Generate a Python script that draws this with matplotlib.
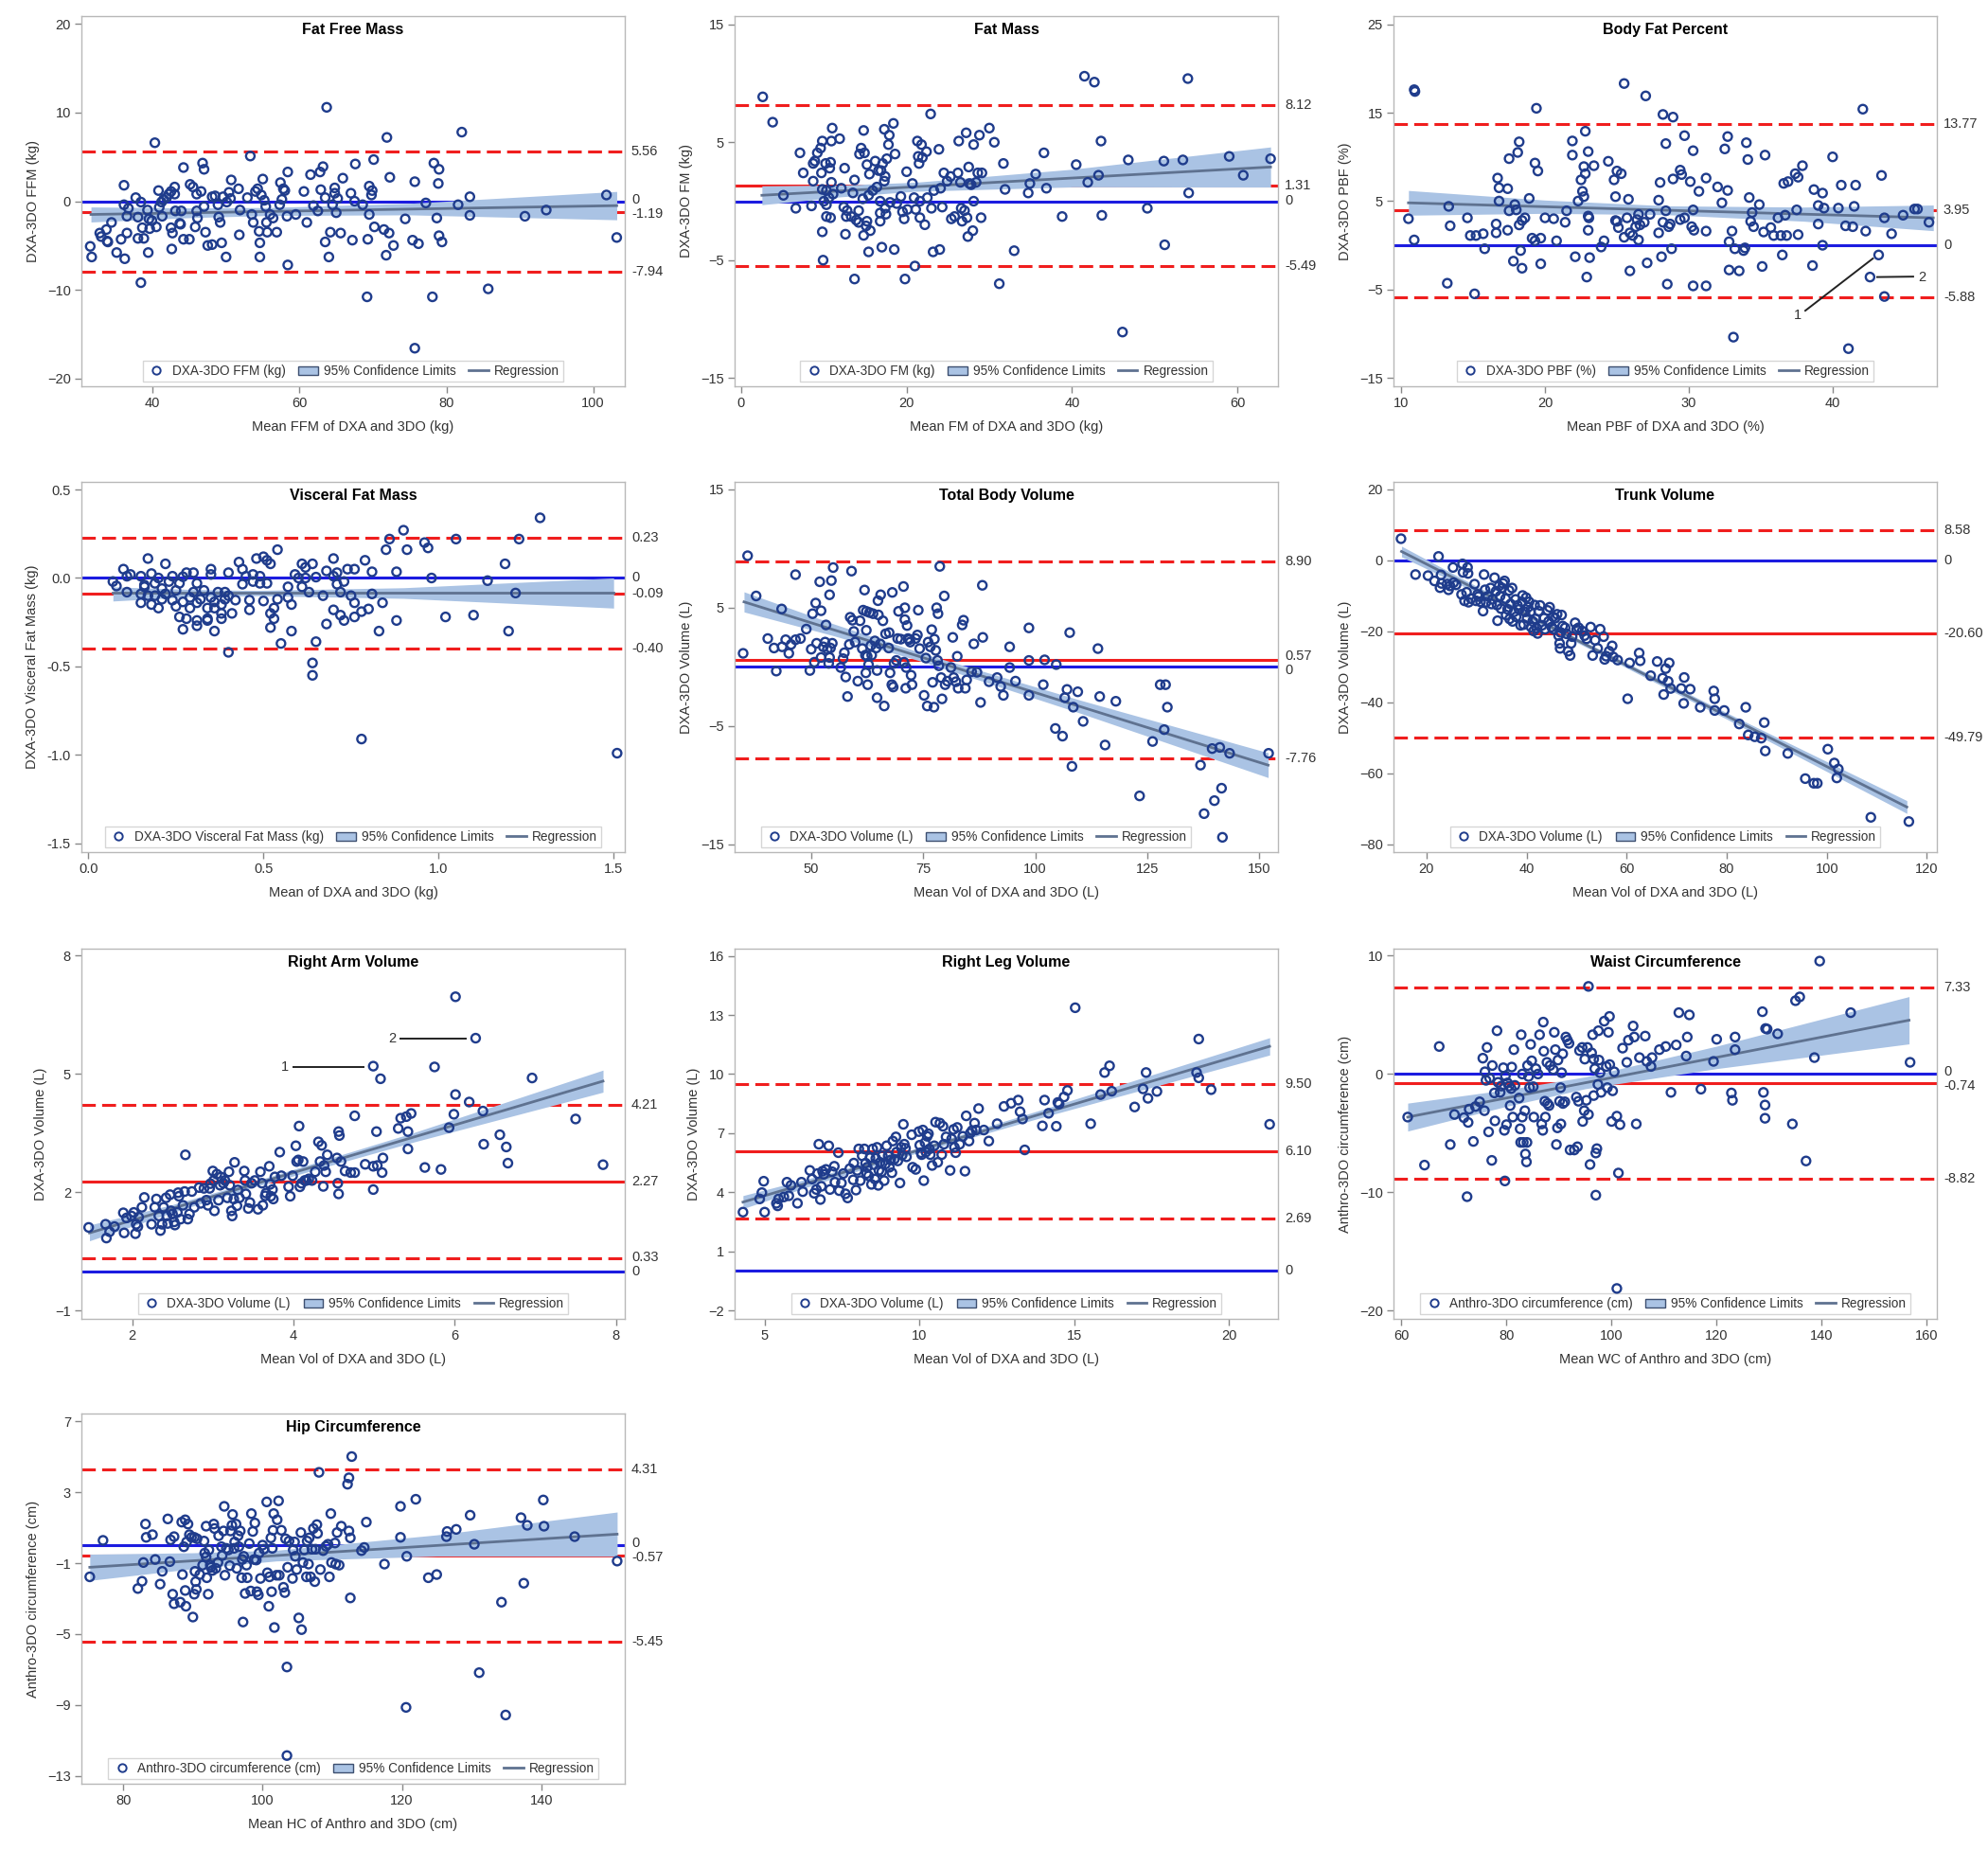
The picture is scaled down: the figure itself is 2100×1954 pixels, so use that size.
import numpy as np
import matplotlib
matplotlib.use("Agg")
import matplotlib.pyplot as plt
from matplotlib.lines import Line2D
from matplotlib.patches import Patch
import matplotlib.transforms as mtransforms

plt.rcParams['font.family'] = ['Liberation Sans', 'DejaVu Sans']

# ---------------- DATA ----------------
# Panel 1: Fat Free Mass
ffm_pts = [(31.5,-5.1),(31.7,-6.3),(32.8,-3.6),(33.0,-4.0),(33.7,-3.2),(33.8,-4.5),(33.9,-4.6),(34.4,-2.4),(35.1,-5.8),(35.7,-4.3),
 (36.1,1.8),(36.1,-0.4),(36.2,-6.5),(36.5,-3.6),(36.5,-1.7),(36.7,-0.8),(37.7,0.4),(38.0,-1.8),(38.0,-4.2),(38.4,-0.1),
 (38.6,-3.0),(38.4,-9.2),(38.8,-4.2),(39.3,-1.0),(39.4,-5.8),(39.5,-2.0),(39.6,-3.1),(39.9,-2.2),(40.3,6.6),(40.5,-2.9),
 (40.8,1.2),(40.9,-0.7),(41.2,-0.1),(41.3,-1.7),(41.5,0.2),(41.9,0.4),(42.2,0.8),(42.5,1.1),(42.5,-3.0),(42.6,-5.4),
 (42.7,-3.6),(43.0,1.6),(43.0,0.8),(43.1,-1.1),(43.7,-2.5),(43.8,-2.6),(43.9,-1.1),(44.2,3.8),(44.2,-4.3),(45.0,-4.3),
 (45.1,1.9),(45.5,1.6),(45.8,-2.9),(46.0,0.8),(46.0,-1.1),(46.1,-1.9),(46.6,1.1),(47.0,-0.6),(46.8,4.3),(47.0,3.6),
 (47.2,-3.5),(47.5,-5.0),(48.1,-4.9),(48.1,0.5),(48.5,0.6),(48.9,-0.4),(49.0,-1.8),(49.2,-2.4),(49.4,-4.7),(49.6,0.5),
 (50.0,-6.3),(50.1,-0.1),(50.4,1.0),(50.6,0.3),(50.7,2.4),(51.7,1.4),(51.8,-3.8),(51.9,-1.0),(52.9,0.4),(53.3,5.1),
 (53.5,-1.5),(53.7,-2.4),(54.0,1.1),(54.3,1.4),(54.5,-3.4),(54.6,-4.7),(54.6,-6.3),(54.8,0.7),(55.0,2.5),(55.2,0.1),
 (55.4,-0.6),(55.5,-2.4),(55.6,-3.5),(56.0,-1.5),(56.4,-1.9),(56.9,-3.5),(57.3,-0.4),(57.4,2.1),(57.6,0.2),(57.8,1.4),
 (58.0,1.2),(58.3,-1.7),(58.4,3.3),(58.4,-7.2),(59.5,-1.5),(60.6,1.1),(61.0,-2.4),(61.5,3.0),(61.9,-0.5),(62.5,-1.1),
 (62.8,3.3),(62.9,1.3),(63.2,3.9),(63.5,0.4),(63.5,-4.6),(63.7,10.6),(64.0,-6.3),(64.2,-3.5),(64.5,-0.4),(64.8,1.5),
 (64.8,0.9),(65.0,-1.3),(65.2,0.3),(65.6,-3.6),(65.9,2.6),(67.0,0.9),(67.2,-4.4),(67.5,0.0),(67.6,4.2),(68.6,-0.4),
 (69.2,-10.8),(69.3,-4.3),(69.5,1.7),(69.5,-1.5),(69.8,0.7),(69.9,1.2),(70.1,4.7),(70.2,-2.9),(71.9,7.2),(71.8,-6.1),
 (71.5,-3.2),(72.2,-3.6),(72.3,2.7),(72.8,-5.0),(74.4,-2.0),(75.4,-4.4),(75.7,-16.6),(75.7,2.2),(76.2,-4.8),(77.2,-0.2),
 (78.1,-10.8),(78.3,4.3),(78.7,-1.9),(78.9,2.0),(79.0,3.6),(79.0,-3.9),(79.4,-4.6),(81.6,-0.4),(82.1,7.8),(83.2,0.5),
 (83.2,-1.6),(85.7,-9.9),(90.7,-1.7),(93.6,-1.0),(101.8,0.7),(103.2,-4.1)]
ffm_lines = [5.56, -1.19, -7.94]
ffm_reg_x = [31.6, 103.2]
ffm_reg_y = [-1.5, -0.5]
ffm_ci_x = [31.6, 45, 56, 75, 103.2]
ffm_ci_lo = [-2.35, -1.86, -1.61, -1.54, -2.1]
ffm_ci_hi = [-0.65, -0.76, -0.71, -0.24, 1.1]

# Panel 2: Fat Mass
fm_pts = [(2.6,8.85),(3.8,6.7),(5.1,0.5),(6.6,-0.6),(7.1,4.1),(7.5,2.4),(8.5,-0.4),(8.7,1.7),(8.7,3.2),(8.9,3.4),
 (9.2,4.1),(9.6,4.5),(9.7,2.4),(9.8,5.1),(9.8,1.0),(9.8,-2.6),(9.9,-5.0),(10.0,0.0),(10.2,3.2),(10.3,0.9),
 (10.3,-0.3),(10.3,-1.3),(10.6,0.3),(10.7,2.8),(10.8,3.3),(10.8,-1.4),(10.9,1.6),(10.9,5.1),(11.0,6.2),(11.1,0.6),
 (11.9,5.3),(12.1,1.1),(12.4,-0.5),(12.5,2.8),(12.6,-2.8),(12.7,-1.3),(12.8,-0.8),(13.3,-1.3),(13.5,0.7),(13.7,1.8),
 (13.7,-6.6),(13.9,-1.6),(14.2,-0.8),(14.2,-1.8),(14.3,4.0),(14.5,4.5),(14.7,0.2),(14.8,6.0),(14.8,-2.9),(14.9,4.1),
 (15.1,-2.1),(15.2,-1.7),(15.2,3.1),(15.4,0.5),(15.4,-4.3),(15.5,2.3),(15.6,-2.5),(15.9,0.9),(16.2,3.4),(16.4,1.2),
 (16.6,2.6),(16.8,0.0),(16.8,-1.0),(16.8,-1.7),(16.9,2.6),(17.0,-3.9),(17.1,3.2),(17.3,6.1),(17.3,1.7),(17.4,2.1),
 (17.4,-0.6),(17.5,-1.1),(17.6,3.6),(17.8,4.8),(17.9,5.6),(18.0,-0.1),(18.4,6.6),(18.5,-4.1),(18.6,4.0),(18.8,-0.2),
 (19.3,0.4),(19.5,-0.9),(19.7,-1.5),(19.8,-6.6),(20.0,2.5),(20.1,-0.7),(20.7,1.5),(20.9,0.3),(21.0,-5.5),(21.1,-0.7),
 (21.3,5.1),(21.4,3.8),(21.5,3.2),(21.6,-1.4),(21.6,0.0),(21.8,4.8),(21.9,3.7),(22.2,-2.0),(22.4,4.2),(22.5,0.3),
 (22.9,7.4),(23.0,-0.6),(23.2,-4.3),(23.3,0.9),(23.9,4.4),(24.0,-4.1),(24.1,1.1),(24.3,-0.5),(24.5,2.4),(24.9,1.7),
 (25.3,2.1),(25.4,-1.5),(25.8,-1.3),(26.2,2.4),(26.3,5.1),(26.5,1.6),(26.6,-0.6),(26.7,-1.7),(27.0,-0.8),(27.2,5.8),
 (27.3,-1.4),(27.4,-3.0),(27.5,2.9),(27.6,1.5),(27.8,1.4),(28.0,-2.5),(28.1,0.0),(28.1,4.8),(28.4,1.6),(28.6,2.4),
 (28.8,5.6),(29.0,-1.4),(29.1,2.4),(30.0,6.2),(30.6,5.0),(31.2,-7.0),(31.7,3.2),(31.9,1.0),(33.0,-4.2),(34.7,0.7),
 (34.9,1.5),(35.6,2.3),(36.6,4.1),(36.9,1.1),(38.8,-1.3),(40.5,3.1),(41.5,10.6),(41.9,1.6),(42.7,10.1),(43.2,2.2),
 (43.5,5.1),(43.6,-1.2),(46.1,-11.1),(46.8,3.5),(49.1,-0.6),(51.1,3.4),(51.2,-3.7),(53.4,3.5),(54.0,10.4),(54.1,0.7),
 (59.0,3.8),(60.7,2.2),(64.0,3.6)]
fm_lines = [8.12, 1.31, -5.49]
fm_reg_x = [2.5, 64.0]
fm_reg_y = [0.5, 2.9]
fm_ci_x = [2.5, 12, 21, 40, 64]
fm_ci_lo = [-0.3, 0.37, 0.84, 1.21, 1.2]
fm_ci_hi = [1.3, 1.37, 1.6, 2.71, 4.6]

# Panel 3: Body Fat Percent
pbf_pts = [(10.5,3.0),(10.9,17.6),(10.95,17.4),(10.9,0.6),(13.3,4.4),(13.4,2.2),(13.2,-4.3),(14.6,3.1),(14.8,1.1),(15.1,-5.5),
 (15.2,1.1),(15.7,1.3),(15.8,-0.4),(16.6,1.4),(16.6,2.4),(16.7,7.6),(16.8,6.5),(16.8,5.0),(17.4,6.4),(17.4,1.7),
 (17.5,3.9),(17.5,9.8),(17.8,-1.8),(17.9,4.6),(18.0,4.0),(18.1,10.5),(18.2,11.7),(18.2,2.3),(18.3,-0.6),(18.4,-2.6),
 (18.4,2.8),(18.6,3.1),(18.9,5.3),(19.1,0.8),(19.3,0.5),(19.3,9.3),(19.4,15.5),(19.5,8.4),(19.7,-2.1),(19.7,0.8),
 (20.0,3.1),(20.6,3.0),(20.8,0.5),(21.4,2.6),(21.5,3.9),(21.9,11.8),(21.9,10.2),(22.1,-1.3),(22.3,5.0),(22.5,7.4),
 (22.6,6.1),(22.7,5.5),(22.7,8.9),(22.8,12.9),(22.8,8.1),(22.9,-3.6),(23.0,10.6),(23.0,3.3),(23.05,3.1),(23.0,1.7),
 (23.1,-1.4),(23.4,9.0),(23.9,-0.2),(24.1,0.5),(24.4,9.5),(24.8,7.4),(24.9,5.5),(24.9,2.8),(25.0,8.4),(25.0,2.7),
 (25.1,2.0),(25.3,8.1),(25.5,18.3),(25.5,0.9),(25.7,3.1),(25.8,5.2),(25.9,1.4),(25.9,-2.9),(26.1,1.1),(26.3,2.1),
 (26.4,2.9),(26.5,3.5),(26.5,0.6),(26.6,2.3),(26.9,2.6),(27.0,16.9),(27.1,-2.0),(27.3,3.5),(27.9,5.1),(27.9,1.4),
 (28.0,7.1),(28.1,-1.3),(28.2,2.6),(28.2,14.8),(28.4,11.5),(28.4,3.9),(28.5,-4.4),(28.6,2.1),(28.7,2.4),(28.8,-0.4),
 (28.9,14.5),(28.9,7.5),(29.4,2.9),(29.4,8.5),(29.5,8.0),(29.7,3.1),(29.7,12.4),(30.1,7.2),(30.2,2.1),(30.3,-4.6),
 (30.3,10.7),(30.3,4.0),(30.35,1.7),(30.7,6.1),(31.2,7.6),(31.2,1.6),(31.2,-4.6),(32.0,6.6),(32.3,4.8),(32.5,10.9),
 (32.7,6.2),(32.7,12.3),(32.8,0.4),(32.8,-2.8),(33.0,1.6),(33.1,-10.4),(33.2,-0.4),(33.5,-2.9),(33.8,-0.6),(33.9,-0.3),
 (34.0,11.6),(34.1,9.7),(34.2,5.4),(34.3,2.7),(34.4,3.7),(34.5,2.1),(34.9,4.6),(35.1,-2.4),(35.2,1.5),(35.3,10.2),
 (35.7,2.0),(35.9,1.1),(36.2,3.1),(36.4,1.1),(36.5,-1.1),(36.6,7.0),(36.7,3.4),(36.8,1.1),(36.9,7.2),(37.4,8.1),
 (37.5,4.0),(37.6,7.7),(37.6,1.2),(37.9,9.0),(38.6,-2.3),(38.7,6.3),(39.0,4.5),(39.0,2.4),(39.3,5.9),(39.3,0.0),
 (39.4,4.2),(40.0,10.0),(40.4,4.2),(40.6,6.8),(40.9,2.2),(41.1,-11.7),(41.4,2.1),(41.5,4.4),(41.6,6.8),(42.1,15.4),
 (42.3,1.6),(42.6,-3.6),(43.2,-1.1),(43.4,7.9),(43.6,3.1),(43.6,-5.8),(44.1,1.3),(44.9,3.4),(45.7,4.1),(45.9,4.1),
 (46.7,2.6)]
pbf_lines = [13.77, 3.95, -5.88]
pbf_reg_x = [10.5, 47.0]
pbf_reg_y = [4.8, 3.1]
pbf_ci_x = [10.5, 20, 28.5, 38, 47]
pbf_ci_lo = [3.4, 3.61, 3.46, 2.72, 1.65]
pbf_ci_hi = [6.2, 5.11, 4.46, 4.32, 4.55]

# Panel 4: Visceral Fat Mass
vfm_pts = [(0.07,-0.02),(0.08,-0.045),(0.10,0.05),(0.11,0.01),(0.11,-0.08),(0.12,0.02),(0.15,0.01),(0.15,-0.09),(0.15,-0.14),(0.16,-0.05),
 (0.16,-0.04),(0.17,0.11),(0.17,-0.10),(0.18,-0.15),(0.18,0.025),(0.19,-0.03),(0.19,-0.10),(0.20,-0.17),(0.20,0.0),(0.21,-0.12),
 (0.21,-0.06),(0.22,0.08),(0.22,-0.09),(0.23,-0.02),(0.24,0.01),(0.24,-0.125),(0.25,-0.16),(0.25,-0.07),(0.26,-0.22),(0.26,-0.03),
 (0.27,-0.135),(0.27,-0.29),(0.27,0.007),(0.28,-0.23),(0.28,0.03),(0.29,-0.11),(0.29,-0.17),(0.30,0.03),(0.30,-0.08),(0.31,-0.14),
 (0.31,-0.24),(0.31,-0.03),(0.31,-0.27),(0.32,-0.12),(0.33,-0.07),(0.34,-0.17),(0.34,-0.23),(0.34,-0.24),(0.35,0.05),(0.35,0.02),
 (0.35,-0.11),(0.36,-0.135),(0.36,-0.30),(0.36,-0.17),(0.37,-0.08),(0.38,-0.20),(0.38,-0.15),(0.38,-0.23),(0.39,-0.08),(0.39,-0.12),
 (0.40,0.03),(0.40,-0.42),(0.40,-0.10),(0.41,-0.20),(0.42,-0.125),(0.43,0.09),(0.44,0.05),(0.44,-0.035),(0.45,0.01),(0.46,-0.125),
 (0.46,-0.18),(0.47,0.02),(0.47,-0.02),(0.48,0.11),(0.49,0.01),(0.49,-0.03),(0.50,-0.13),(0.50,0.12),(0.51,-0.03),(0.51,0.10),
 (0.52,-0.20),(0.52,0.08),(0.52,-0.28),(0.53,-0.23),(0.53,-0.17),(0.54,-0.12),(0.54,0.16),(0.55,-0.37),(0.57,-0.05),(0.57,-0.11),
 (0.58,-0.30),(0.58,-0.15),(0.59,0.02),(0.60,0.0),(0.61,-0.05),(0.61,0.08),(0.62,0.06),(0.62,0.0),(0.64,-0.48),(0.64,-0.55),
 (0.63,-0.08),(0.64,0.08),(0.65,-0.36),(0.65,0.005),(0.67,-0.10),(0.68,-0.26),(0.68,0.04),(0.70,0.01),(0.70,0.11),(0.70,-0.18),
 (0.71,-0.035),(0.71,0.03),(0.72,-0.21),(0.72,-0.08),(0.73,-0.24),(0.73,-0.02),(0.74,0.05),(0.75,-0.10),(0.76,-0.14),(0.76,-0.22),
 (0.76,0.05),(0.78,-0.19),(0.78,-0.91),(0.79,0.10),(0.80,-0.175),(0.81,-0.09),(0.81,0.035),(0.83,-0.30),(0.84,-0.14),(0.85,0.16),
 (0.86,0.22),(0.88,0.035),(0.88,-0.24),(0.90,0.27),(0.91,0.16),(0.96,0.20),(0.97,0.17),(0.98,0.0),(1.02,-0.22),(1.05,0.22),
 (1.10,-0.21),(1.14,-0.015),(1.19,0.08),(1.20,-0.30),(1.22,-0.085),(1.23,0.22),(1.29,0.34),(1.51,-0.99)]
vfm_lines = [0.23, -0.09, -0.40]
vfm_reg_x = [0.07, 1.5]
vfm_reg_y = [-0.085, -0.085]
vfm_ci_x = [0.07, 0.3, 0.48, 0.9, 1.5]
vfm_ci_lo = [-0.13, -0.105, -0.10, -0.115, -0.17]
vfm_ci_hi = [-0.05, -0.065, -0.07, -0.055, 0.0]

# Panel 5: Total Body Volume
tbv_pts = [(34.8,1.15),(35.8,9.4),(37.7,6.0),(40.3,2.4),(41.7,1.6),(42.2,-0.35),(43.4,4.9),(43.5,1.7),(44.3,2.3),(45.0,1.15),
 (45.5,1.9),(46.5,7.8),(46.5,2.3),(47.6,2.4),(48.9,3.2),(49.7,-0.3),(50.0,1.5),(50.3,4.5),(50.7,0.4),(51.0,5.4),
 (51.2,2.0),(51.9,7.2),(52.2,4.75),(52.2,0.8),(52.7,1.7),(53.1,2.1),(53.3,3.55),(53.6,1.5),(53.9,0.3),(54.1,0.8),
 (54.1,6.1),(54.3,1.6),(54.5,7.3),(54.7,2.0),(54.9,8.4),(56.6,-0.05),(57.1,0.7),(57.4,1.2),(57.7,-0.85),(58.1,-2.5),
 (58.5,1.9),(58.7,4.2),(59.0,8.1),(59.2,3.95),(59.5,3.0),(59.8,2.1),(60.4,-1.2),(60.9,3.9),(61.4,1.55),(61.6,4.8),
 (61.9,6.5),(62.1,1.0),(62.2,-0.5),(62.3,3.1),(62.3,4.7),(62.5,0.9),(62.6,-1.5),(62.8,0.2),(63.0,4.6),(63.3,1.8),
 (63.5,1.0),(63.8,4.5),(64.2,2.2),(64.5,1.6),(64.7,-2.6),(64.7,-0.3),(64.9,5.6),(65.0,4.4),(65.4,1.95),(65.5,6.1),
 (66.0,3.9),(66.3,-3.3),(66.6,2.8),(67.3,1.6),(67.4,2.9),(67.6,-0.5),(68.0,-1.5),(68.1,6.3),(68.3,-1.7),(68.5,0.3),
 (69.0,0.55),(69.3,2.4),(69.5,4.7),(70.0,2.35),(70.6,6.8),(70.7,0.4),(70.9,5.0),(70.9,4.0),(71.1,-1.8),(71.2,-0.05),
 (71.4,3.5),(71.6,2.4),(71.8,2.3),(72.1,2.1),(72.3,-0.7),(72.5,-1.5),(73.3,2.4),(73.7,2.7),(73.9,4.8),(74.2,1.55),
 (75.2,-2.4),(75.6,0.75),(75.9,-3.3),(76.1,2.1),(76.6,1.7),(76.9,3.15),(77.1,-1.3),(77.4,-3.4),(77.5,2.35),(77.8,1.4),
 (78.0,5.0),(78.2,0.55),(78.3,4.5),(78.5,0.1),(78.7,8.5),(79.0,-0.9),(79.2,-2.7),(79.7,6.0),(79.9,-1.5),(80.4,-1.2),
 (81.2,-0.05),(81.6,2.5),(81.8,-0.9),(82.3,-1.25),(82.6,0.9),(82.8,-1.8),(83.7,3.55),(84.0,3.95),(84.4,-1.8),(84.7,-1.1),
 (85.8,-0.4),(86.3,1.95),(87.0,-0.45),(87.8,-3.0),(88.2,6.9),(88.3,2.5),(89.7,-1.25),(91.5,-0.9),(92.3,-1.65),(92.9,-2.4),
 (94.3,1.7),(94.3,-0.05),(95.6,-1.2),(98.6,3.3),(98.6,0.55),(98.6,-2.4),(101.8,-1.5),(102.1,0.6),(104.5,-5.2),(104.7,0.2),
 (106.1,-5.85),(106.6,-2.6),(107.1,-1.9),(107.7,2.9),(108.2,-8.4),(108.5,-3.4),(109.5,-2.1),(110.7,-4.6),(114.0,1.55),(114.4,-2.5),
 (115.6,-6.6),(118.0,-2.9),(123.3,-10.9),(126.2,-6.3),(127.9,-1.5),(129.1,-1.5),(128.8,-5.3),(129.5,-3.4),(136.9,-8.3),(137.7,-12.4),
 (139.5,-6.9),(140.0,-11.3),(141.2,-6.8),(141.6,-10.25),(141.8,-14.4),(143.4,-7.3),(152.1,-7.3)]
tbv_lines = [8.90, 0.57, -7.76]
tbv_reg_x = [35.0, 152.0]
tbv_reg_y = [5.5, -8.3]
tbv_ci_x = [35, 55, 75, 110, 152]
tbv_ci_lo = [4.65, 2.64, 0.43, -3.9, -9.35]
tbv_ci_hi = [6.35, 3.64, 1.13, -2.8, -7.25]

# Panel 6: Trunk Volume
trk_pts = [(14.9,6.1),(17.8,-4.0),(20.3,-4.3),(21.6,-5.8),(22.4,1.1),(22.7,-7.7),(22.9,-4.1),(23.0,-6.5),(24.1,-6.7),(24.4,-8.3),
 (24.7,-7.2),(25.3,-2.0),(25.4,-6.3),(25.9,-6.9),(27.0,-9.6),(27.2,-1.0),(27.3,-3.4),(27.6,-11.4),(28.0,-9.0),(28.2,-2.0),
 (28.3,-3.7),(28.4,-11.8),(28.9,-10.8),(29.6,-6.7),(29.9,-11.4),(30.2,-9.6),(30.4,-10.2),(30.8,-11.7),(31.3,-14.3),(31.5,-4.0),
 (31.7,-8.3),(31.9,-11.8),(32.3,-10.1),(32.8,-7.8),(33.0,-12.3),(33.2,-11.0),(33.6,-4.9),(33.9,-8.7),(34.1,-12.6),(34.2,-17.0),
 (34.5,-7.2),(34.7,-10.1),(34.9,-13.6),(35.1,-7.8),(35.3,-6.5),(35.6,-5.8),(35.8,-10.8),(35.9,-15.4),(36.2,-13.8),(36.5,-8.5),
 (36.6,-16.5),(36.8,-12.3),(37.1,-7.8),(37.2,-17.2),(37.5,-14.5),(37.8,-11.0),(37.9,-15.9),(38.2,-12.7),(38.5,-13.8),(38.8,-18.3),
 (39.1,-11.7),(39.2,-9.9),(39.4,-18.1),(39.7,-14.5),(39.9,-10.5),(40.1,-16.3),(40.3,-13.2),(40.5,-11.7),(40.8,-14.5),(40.9,-18.8),
 (41.2,-17.2),(41.4,-19.9),(41.6,-12.6),(41.8,-16.5),(42.0,-19.1),(42.2,-20.6),(42.4,-14.3),(42.7,-12.7),(43.1,-18.3),(43.5,-16.3),
 (43.7,-19.4),(44.2,-14.1),(44.4,-17.2),(44.6,-13.2),(45.0,-18.8),(45.3,-15.9),(45.4,-19.4),(45.7,-16.3),(46.1,-15.2),(46.4,-21.2),
 (46.6,-23.4),(46.7,-24.8),(46.8,-20.3),(47.0,-15.4),(47.2,-18.5),(47.7,-19.0),(48.0,-20.7),(48.3,-25.6),(48.7,-26.8),(48.9,-23.4),
 (49.1,-21.5),(49.7,-17.6),(50.0,-19.4),(50.4,-19.0),(51.1,-19.9),(51.6,-21.2),(52.0,-22.1),(52.8,-18.8),(53.2,-26.8),(53.7,-22.5),
 (54.2,-24.8),(54.7,-19.4),(55.4,-21.5),(55.6,-27.9),(55.9,-27.0),(56.5,-25.6),(57.1,-24.1),(57.3,-27.2),(58.2,-28.1),(60.2,-39.0),
 (60.6,-28.9),(62.5,-26.1),(62.7,-28.3),(64.8,-32.5),(66.1,-28.5),(67.2,-33.2),(67.4,-37.8),(67.8,-30.5),(68.3,-34.1),(68.5,-28.9),
 (68.8,-36.1),(70.9,-36.1),(71.4,-40.3),(71.5,-33.0),(72.7,-36.3),(74.7,-41.4),(77.4,-36.8),(77.6,-39.0),(77.6,-42.3),(79.5,-42.3),
 (82.5,-46.1),(83.8,-41.4),(84.3,-49.2),(85.6,-49.7),(86.9,-50.1),(87.5,-45.7),(87.7,-53.7),(92.2,-54.4),(95.7,-61.5),(97.4,-62.8),
 (98.1,-62.8),(100.2,-53.2),(101.5,-57.1),(102.0,-61.3),(102.3,-58.8),(108.8,-72.4),(116.4,-73.6)]
trk_lines = [8.58, -20.60, -49.79]
trk_reg_x = [15.0, 116.0]
trk_reg_y = [2.5, -69.5]
trk_ci_x = [15, 30, 45, 80, 116]
trk_ci_lo = [1.0, -9.09, -19.49, -44.74, -71.3]
trk_ci_hi = [4.0, -7.29, -18.29, -42.94, -67.7]

# Panel 7: Right Arm Volume
arm_pts = [(1.46,1.11),(1.67,1.19),(1.68,0.84),(1.72,1.0),(1.78,1.13),(1.89,1.48),(1.90,0.97),(1.93,1.35),(1.99,1.40),(2.02,1.49),
 (2.04,0.95),(2.05,1.19),(2.07,1.13),(2.08,1.37),(2.12,1.62),(2.15,1.87),(2.24,1.19),(2.28,1.62),(2.30,1.83),(2.33,1.40),
 (2.35,1.03),(2.37,1.19),(2.39,1.62),(2.42,1.86),(2.43,1.40),(2.44,1.21),(2.47,1.94),(2.48,1.53),(2.50,1.45),(2.52,1.25),
 (2.53,1.17),(2.56,1.49),(2.57,1.99),(2.58,1.90),(2.60,1.32),(2.63,1.67),(2.65,2.02),(2.66,2.95),(2.69,1.32),(2.71,1.45),
 (2.74,2.02),(2.77,1.62),(2.83,2.12),(2.85,1.72),(2.89,2.10),(2.92,1.80),(2.94,1.67),(2.96,2.10),(2.97,2.22),(3.00,2.54),
 (3.01,2.30),(3.02,1.53),(3.05,2.46),(3.07,1.80),(3.09,2.18),(3.10,2.39),(3.13,2.23),(3.15,2.30),(3.18,1.86),(3.20,2.52),
 (3.21,2.18),(3.23,1.53),(3.24,1.40),(3.26,1.83),(3.27,2.76),(3.30,1.66),(3.31,2.06),(3.33,1.86),(3.39,2.54),(3.40,2.30),
 (3.41,1.96),(3.44,1.59),(3.46,1.74),(3.48,2.23),(3.52,2.30),(3.56,1.57),(3.59,2.52),(3.61,2.23),(3.62,1.67),(3.65,1.91),
 (3.66,1.98),(3.70,2.66),(3.71,2.20),(3.72,1.90),(3.74,2.07),(3.75,1.83),(3.77,2.39),(3.83,3.02),(3.85,2.42),(3.94,2.14),
 (3.96,1.90),(3.99,2.42),(4.03,3.18),(4.04,2.78),(4.06,2.82),(4.07,3.68),(4.08,2.14),(4.10,2.23),(4.12,2.78),(4.14,2.30),
 (4.16,2.30),(4.19,2.34),(4.23,2.30),(4.27,2.52),(4.31,3.28),(4.33,2.78),(4.35,3.19),(4.37,2.15),(4.38,2.68),(4.40,2.52),
 (4.42,2.95),(4.54,2.87),(4.55,2.23),(4.56,1.96),(4.56,3.54),(4.57,3.44),(4.59,2.78),(4.64,2.54),(4.71,2.50),(4.76,2.50),
 (4.76,3.94),(4.89,2.71),(4.99,5.20),(4.99,2.07),(4.99,2.66),(5.03,3.54),(5.04,2.68),(5.08,4.88),(5.10,2.50),(5.11,2.87),
 (5.30,3.62),(5.33,3.88),(5.40,3.92),(5.42,3.54),(5.42,3.10),(5.46,4.00),(5.63,2.63),(5.75,5.18),(5.83,2.58),(5.93,3.64),
 (5.99,3.98),(6.01,4.48),(6.01,6.96),(6.18,4.29),(6.26,5.91),(6.35,4.06),(6.36,3.22),(6.56,3.46),(6.64,3.15),(6.66,2.74),
 (6.96,4.90),(7.50,3.86),(7.84,2.70)]
arm_lines = [4.21, 2.27, 0.33]
arm_reg_x = [1.47, 7.84]
arm_reg_y = [0.97, 4.82]
arm_ci_x = [1.47, 2.5, 3.5, 5.5, 7.84]
arm_ci_lo = [0.77, 1.49, 2.13, 3.28, 4.54]
arm_ci_hi = [1.17, 1.69, 2.27, 3.52, 5.10]

# Panel 8: Right Leg Volume
leg_pts = [(4.30,2.99),(4.84,3.66),(4.91,3.98),(4.97,4.56),(5.00,2.99),(5.38,3.44),(5.42,3.31),(5.45,3.66),(5.62,3.76),(5.72,4.51),
 (5.78,3.82),(5.85,4.35),(6.06,3.44),(6.19,4.51),(6.23,4.03),(6.46,5.11),(6.53,4.67),(6.60,3.95),(6.67,4.14),(6.71,4.95),
 (6.75,6.44),(6.80,3.63),(6.83,4.30),(6.87,5.07),(6.91,4.91),(6.98,5.16),(7.07,6.36),(7.11,4.14),(7.18,5.04),(7.25,5.32),
 (7.27,4.51),(7.38,6.01),(7.41,4.08),(7.48,4.47),(7.54,4.95),(7.61,3.92),(7.68,3.71),(7.75,5.20),(7.86,4.63),(7.88,5.48),
 (7.95,4.11),(7.99,5.11),(8.04,6.20),(8.09,4.59),(8.15,5.85),(8.22,6.20),(8.26,5.48),(8.29,4.95),(8.31,5.27),(8.36,4.83),
 (8.40,5.75),(8.45,4.40),(8.49,6.20),(8.53,5.40),(8.56,4.67),(8.59,5.72),(8.63,6.28),(8.67,4.35),(8.69,5.11),(8.73,5.52),
 (8.78,5.04),(8.80,5.85),(8.86,4.59),(8.90,5.43),(8.94,6.36),(8.99,5.85),(9.03,5.27),(9.07,5.64),(9.11,4.99),(9.14,6.60),
 (9.19,5.68),(9.24,6.81),(9.26,6.04),(9.30,5.59),(9.37,4.47),(9.41,6.28),(9.44,5.88),(9.48,7.45),(9.51,6.44),(9.55,6.23),
 (9.58,5.80),(9.75,6.92),(9.78,5.27),(9.88,5.16),(9.98,7.08),(10.01,6.39),(10.05,6.01),(10.07,5.91),(10.11,7.16),(10.14,4.59),
 (10.18,6.52),(10.21,6.04),(10.25,6.84),(10.29,6.97),(10.32,6.20),(10.35,5.91),(10.41,5.36),(10.48,6.36),(10.52,7.56),(10.59,5.52),
 (10.66,7.51),(10.72,5.91),(10.76,7.35),(10.79,6.44),(10.86,6.81),(10.99,5.11),(11.04,6.71),(11.10,7.19),(11.13,6.28),(11.17,6.01),
 (11.22,7.29),(11.30,6.44),(11.40,6.84),(11.47,5.07),(11.51,7.88),(11.60,6.60),(11.64,7.00),(11.70,7.13),(11.78,7.51),(11.83,7.16),
 (11.91,8.25),(12.08,7.16),(12.24,6.60),(12.51,7.48),(12.73,8.36),(12.96,8.52),(13.19,8.68),(13.25,8.09),(13.33,7.72),(13.40,6.15),
 (13.97,7.37),(14.04,8.68),(14.17,8.01),(14.42,7.35),(14.47,8.56),(14.51,8.48),(14.67,8.84),(14.78,9.17),(15.03,13.37),(15.53,7.48),
 (15.85,8.96),(15.98,10.08),(16.14,10.42),(16.21,9.13),(16.95,8.33),(17.22,9.25),(17.32,10.08),(17.38,8.77),(17.67,9.12),(18.95,10.08),
 (19.02,11.78),(19.02,9.81),(19.42,9.21),(21.31,7.45)]
leg_lines = [9.50, 6.10, 2.69]
leg_reg_x = [4.3, 21.31]
leg_reg_y = [3.5, 11.41]
leg_ci_x = [4.3, 7, 9.5, 14, 21.31]
leg_ci_lo = [3.17, 4.59, 5.80, 7.82, 10.97]
leg_ci_hi = [3.83, 4.93, 6.04, 8.22, 11.85]

# Panel 9: Waist Circumference
wc_pts = [(61.2,-3.64),(64.4,-7.70),(67.2,2.33),(69.3,-5.96),(70.1,-3.42),(71.9,-3.69),(72.5,-10.37),(72.7,-4.09),(72.9,-2.97),(73.7,-5.70),
 (74.1,-2.75),(74.9,-2.35),(75.5,1.34),(75.8,-3.10),(75.9,0.19),(76.1,-0.53),(76.3,2.25),(76.6,-4.89),(76.8,-0.35),(77.2,-7.30),
 (77.3,0.72),(77.7,-1.60),(77.8,-3.96),(78.2,3.66),(78.4,-0.70),(78.8,-1.55),(79.0,-1.02),(79.4,0.53),(79.6,-4.76),(79.7,-9.04),
 (79.8,-0.16),(80.0,-4.28),(80.2,-0.75),(80.5,-1.02),(80.7,-2.67),(80.9,-1.23),(81.0,0.59),(81.2,-3.64),(81.4,2.06),(81.6,-0.96),
 (82.4,-2.03),(82.6,-4.63),(82.7,-5.78),(82.8,3.32),(83.0,0.0),(83.0,-3.64),(83.2,-5.78),(83.5,-3.10),(83.6,-6.76),(83.8,-7.43),
 (83.9,-5.78),(84.0,0.72),(84.2,-0.21),(84.4,-1.15),(84.6,2.51),(84.8,1.12),(85.1,-1.07),(85.2,-3.64),(85.6,0.45),(86.0,0.0),
 (86.3,3.32),(86.7,-4.22),(86.9,-4.76),(87.0,4.39),(87.1,1.93),(87.3,-2.30),(87.4,-3.64),(87.7,0.99),(87.8,-2.49),(88.1,-2.67),
 (88.3,0.72),(88.9,0.37),(89.1,3.53),(89.3,2.06),(89.5,-5.96),(89.7,-4.55),(89.8,1.18),(90.1,-2.30),(90.3,-1.15),(90.35,-4.22),
 (90.5,0.11),(90.7,1.71),(90.75,-2.49),(91.1,-2.35),(91.3,3.13),(91.6,2.86),(91.9,2.59),(92.1,-6.42),(92.9,-6.42),(93.3,-1.95),
 (93.5,-6.15),(93.7,-2.30),(93.9,1.98),(94.4,2.25),(94.5,-4.01),(94.8,-3.10),(94.9,1.26),(95.2,-2.22),(95.4,2.25),(95.6,-3.42),
 (95.6,7.41),(95.9,-7.65),(96.2,1.79),(96.4,3.32),(96.6,1.26),(96.6,-1.82),(96.8,0.45),(97.0,-6.68),(97.0,-10.24),(97.2,-6.31),
 (97.4,-0.88),(97.5,3.66),(97.6,1.18),(97.8,0.11),(98.0,-1.55),(98.6,4.47),(99.0,0.64),(99.2,-1.15),(99.4,3.53),(99.6,4.87),
 (99.65,0.80),(100.0,-4.01),(100.2,-1.42),(100.5,0.19),(101.0,-3.56),(101.3,-8.37),(101.0,-18.13),(101.6,-4.28),(102.1,2.19),(102.9,0.99),
 (103.2,2.86),(104.1,4.06),(104.3,3.13),(104.7,-4.22),(105.3,1.39),(106.4,3.21),(106.7,1.07),(107.5,0.64),(107.7,1.39),(109.1,2.06),
 (110.3,2.33),(111.3,-1.55),(112.3,2.46),(112.8,5.19),(114.2,1.52),(114.4,3.13),(114.8,5.00),(117.0,-1.28),(119.4,1.07),(120.0,2.94),
 (122.8,-1.60),(123.0,-2.22),(123.5,3.13),(123.5,2.06),(128.7,5.27),(128.9,-1.55),(129.2,-2.62),(129.2,-3.74),(129.3,3.85),(129.6,3.80),
 (131.6,3.40),(134.4,-4.22),(135.0,6.20),(135.8,6.52),(137.0,-7.35),(138.6,1.39),(139.6,9.55),(145.5,5.19),(156.8,0.99)]
wc_lines = [7.33, -0.74, -8.82]
wc_reg_x = [61.2, 156.6]
wc_reg_y = [-3.64, 4.55]
wc_ci_x = [61.2, 80, 95, 120, 156.6]
wc_ci_lo = [-4.82, -2.73, -1.24, 0.46, 2.55]
wc_ci_hi = [-2.46, -1.33, -0.24, 2.36, 6.55]

# Panel 10: Hip Circumference
hc_pts = [(75.2,-1.77),(77.1,0.29),(82.1,-2.43),(82.7,-2.02),(82.9,-0.96),(83.2,1.21),(83.3,0.46),(84.2,0.61),(84.6,-0.79),(85.3,-2.18),
 (85.6,-1.46),(86.4,1.50),(86.7,-0.91),(86.8,0.32),(87.1,-2.75),(87.3,0.50),(87.3,-3.29),(88.2,-3.20),(88.4,1.32),(88.5,-1.64),
 (88.7,-0.07),(88.9,-2.54),(88.9,1.45),(89.0,-3.43),(89.1,0.20),(89.3,1.21),(89.5,0.61),(89.8,0.46),(90.0,-4.04),(90.2,0.46),
 (90.2,-2.75),(90.3,-1.46),(90.4,-2.04),(90.5,-2.48),(90.6,0.38),(91.0,-1.64),(91.4,-1.11),(91.6,0.25),(91.7,-0.43),(91.9,1.09),
 (91.9,-0.64),(92.0,-1.82),(92.2,-2.75),(92.3,-0.25),(92.5,-1.11),(92.6,-1.23),(92.8,-1.41),(93.0,1.21),(93.1,0.96),(93.3,-1.29),
 (93.6,-0.96),(93.7,0.55),(94.1,-0.07),(94.2,-0.57),(94.4,0.82),(94.5,2.21),(94.6,-1.68),(94.8,-0.16),(95.1,-0.25),(95.3,-1.14),
 (95.4,0.82),(95.6,1.14),(95.7,1.75),(95.9,-0.16),(96.0,0.20),(96.2,1.21),(96.3,-1.29),(96.5,0.55),(96.6,-0.07),(96.8,0.82),
 (97.0,-1.82),(97.1,-0.79),(97.2,-4.32),(97.3,-0.61),(97.5,-2.71),(97.7,-1.11),(97.8,-1.82),(98.1,0.11),(98.3,-2.57),(98.4,1.80),
 (98.6,0.79),(98.8,-0.79),(98.9,1.27),(99.1,-0.82),(99.2,-2.61),(99.4,-2.79),(99.5,-0.43),(99.7,-1.86),(100.0,0.02),(100.2,-0.21),
 (100.6,2.46),(100.7,-1.54),(100.9,-3.43),(101.0,-1.77),(101.2,0.43),(101.3,-2.61),(101.4,-0.16),(101.5,0.86),(101.6,1.80),(101.7,-4.63),
 (102.0,-1.68),(102.1,1.45),(102.3,2.52),(102.4,-1.68),(102.7,0.86),(103.0,-2.36),(103.2,-2.66),(103.3,0.38),(103.5,-6.86),(103.5,-11.86),
 (103.6,-1.23),(103.8,0.25),(104.3,-1.86),(104.4,-0.25),(104.6,0.20),(104.7,-0.61),(104.9,-1.36),(105.2,-4.09),(105.5,0.73),(105.6,-4.75),
 (105.8,-0.96),(106.0,-0.25),(106.3,-1.77),(106.4,0.25),(106.6,-1.05),(106.7,0.43),(106.9,-1.77),(107.1,-0.21),(107.3,0.96),(107.5,-2.04),
 (107.6,-0.21),(107.8,1.18),(107.9,0.68),(108.1,4.13),(108.3,-1.36),(108.7,-0.29),(109.1,-0.04),(109.4,0.07),(109.6,-1.77),(109.8,1.80),
 (109.9,-0.96),(110.4,0.14),(110.5,-1.05),(110.7,0.73),(111.0,-1.11),(111.3,1.09),(112.2,3.46),(112.4,3.82),(112.4,0.82),(112.6,0.43),
 (112.6,-2.96),(112.8,5.02),(114.2,-0.29),(114.6,-0.11),(114.9,1.32),(117.5,-1.05),(119.8,0.46),(119.8,2.21),(120.6,-9.14),(120.7,-0.61),
 (122.0,2.61),(123.8,-1.82),(125.0,-1.64),(126.4,0.50),(126.5,0.79),(127.8,0.91),(129.8,1.71),(130.4,0.07),(131.1,-7.18),(134.3,-3.20),
 (134.9,-9.57),(137.1,1.57),(137.5,-2.13),(138.0,1.14),(140.3,2.57),(140.4,1.09),(144.8,0.50),(150.9,-0.88)]
hc_lines = [4.31, -0.57, -5.45]
hc_reg_x = [75.2, 150.9]
hc_reg_y = [-1.23, 0.64]
hc_ci_x = [75.2, 90, 102, 125, 150.9]
hc_ci_lo = [-1.97, -1.31, -0.87, -0.6, -0.61]
hc_ci_hi = [-0.49, -0.41, -0.27, 0.6, 1.89]

titles = ["Fat Free Mass", "Fat Mass", "Body Fat Percent", "Visceral Fat Mass", "Total Body Volume",
          "Trunk Volume", "Right Arm Volume", "Right Leg Volume", "Waist Circumference", "Hip Circumference"]
ylabels = ["DXA-3DO FFM (kg)", "DXA-3DO FM (kg)", "DXA-3DO PBF (%)", "DXA-3DO Visceral Fat Mass (kg)",
           "DXA-3DO Volume (L)", "DXA-3DO Volume (L)", "DXA-3DO Volume (L)", "DXA-3DO Volume (L)",
           "Anthro-3DO circumference (cm)", "Anthro-3DO circumference (cm)"]
xlabels = ["Mean FFM of DXA and 3DO (kg)", "Mean FM of DXA and 3DO (kg)", "Mean PBF of DXA and 3DO (%)",
           "Mean of DXA and 3DO (kg)", "Mean Vol of DXA and 3DO (L)", "Mean Vol of DXA and 3DO (L)",
           "Mean Vol of DXA and 3DO (L)", "Mean Vol of DXA and 3DO (L)", "Mean WC of Anthro and 3DO (cm)",
           "Mean HC of Anthro and 3DO (cm)"]
legend_labels = ["DXA-3DO FFM (kg)", "DXA-3DO FM (kg)", "DXA-3DO PBF (%)", "DXA-3DO Visceral Fat Mass (kg)",
                 "DXA-3DO Volume (L)", "DXA-3DO Volume (L)", "DXA-3DO Volume (L)", "DXA-3DO Volume (L)",
                 "Anthro-3DO circumference (cm)", "Anthro-3DO circumference (cm)"]
xticks = [[40, 60, 80, 100], [0, 20, 40, 60], [10, 20, 30, 40], [0.0, 0.5, 1.0, 1.5], [50, 75, 100, 125, 150],
          [20, 40, 60, 80, 100, 120], [2, 4, 6, 8], [5, 10, 15, 20], [60, 80, 100, 120, 140, 160], [80, 100, 120, 140]]
yticks = [[-20, -10, 0, 10, 20], [-15, -5, 5, 15], [-15, -5, 5, 15, 25], [-1.5, -1.0, -0.5, 0.0, 0.5],
          [-15, -5, 5, 15], [-80, -60, -40, -20, 0, 20], [-1, 2, 5, 8], [-2, 1, 4, 7, 10, 13, 16],
          [-20, -10, 0, 10], [-13, -9, -5, -1, 3, 7]]
xlims = [(30.3, 104.3), (-0.8, 64.9), (9.46, 47.25), (-0.02, 1.532), (32.9, 154.2), (13.4, 122.0),
         (1.37, 8.11), (4.03, 21.58), (58.5, 161.9), (74.0, 152.0)]
ylims = [(-20.9, 20.9), (-15.7, 15.7), (-15.96, 25.93), (-1.549, 0.543), (-15.65, 15.64), (-82.2, 22.1),
         (-1.21, 8.18), (-2.43, 16.37), (-20.7, 10.6), (-13.45, 7.45)]
legend_xc = [0.5, 0.5, 0.5, 0.5, 0.444, 0.5, 0.5, 0.5, 0.5, 0.5]

# ---------------- STYLE ----------------
PT = '#1f3c8c'
BLUE = '#1c1ce0'
RED = '#f01e1e'
REG = '#5f7290'
BAND = '#aac3e4'
SPINE = '#b8b8b8'
TXT = '#333333'

W, H = 2100, 1954
fig = plt.figure(figsize=(W / 100, H / 100), dpi=100)
fig.patch.set_facecolor('white')

col_left = [86, 776, 1472]
row_top = [17, 509, 1002, 1493]
FW, FH = 574, 391

panels = [
    (ffm_pts, ffm_lines, ffm_reg_x, ffm_reg_y, ffm_ci_x, ffm_ci_lo, ffm_ci_hi),
    (fm_pts, fm_lines, fm_reg_x, fm_reg_y, fm_ci_x, fm_ci_lo, fm_ci_hi),
    (pbf_pts, pbf_lines, pbf_reg_x, pbf_reg_y, pbf_ci_x, pbf_ci_lo, pbf_ci_hi),
    (vfm_pts, vfm_lines, vfm_reg_x, vfm_reg_y, vfm_ci_x, vfm_ci_lo, vfm_ci_hi),
    (tbv_pts, tbv_lines, tbv_reg_x, tbv_reg_y, tbv_ci_x, tbv_ci_lo, tbv_ci_hi),
    (trk_pts, trk_lines, trk_reg_x, trk_reg_y, trk_ci_x, trk_ci_lo, trk_ci_hi),
    (arm_pts, arm_lines, arm_reg_x, arm_reg_y, arm_ci_x, arm_ci_lo, arm_ci_hi),
    (leg_pts, leg_lines, leg_reg_x, leg_reg_y, leg_ci_x, leg_ci_lo, leg_ci_hi),
    (wc_pts, wc_lines, wc_reg_x, wc_reg_y, wc_ci_x, wc_ci_lo, wc_ci_hi),
    (hc_pts, hc_lines, hc_reg_x, hc_reg_y, hc_ci_x, hc_ci_lo, hc_ci_hi),
]

MIN_SEP = 15.0  # pixels between right-side labels

axes = []
for i, (pts, lines, rx, ry, cx, clo, chi) in enumerate(panels):
    r, c = divmod(i, 3)
    ax = fig.add_axes([col_left[c] / W, 1 - (row_top[r] + FH) / H, FW / W, FH / H])
    axes.append(ax)
    pts = np.array(pts)
    upper, mean, lower = lines[0], lines[1], lines[2]
    ax.axhline(0, color=BLUE, lw=2.2, zorder=2)
    ax.axhline(mean, color=RED, lw=2.2, zorder=2)
    ax.axhline(upper, color=RED, lw=2.2, ls=(0, (4.8, 2.2)), zorder=2)
    ax.axhline(lower, color=RED, lw=2.2, ls=(0, (4.8, 2.2)), zorder=2)
    ax.fill_between(cx, clo, chi, color=BAND, lw=0, zorder=3)
    ax.plot(rx, ry, color=REG, lw=2.0, zorder=4)
    ax.scatter(pts[:, 0], pts[:, 1], s=42, facecolors='none', edgecolors=PT, linewidths=1.7, zorder=5)

    ax.set_xlim(*xlims[i])
    ax.set_ylim(*ylims[i])
    ax.set_xticks(xticks[i])
    ax.set_yticks(yticks[i])
    if i == 3:
        ax.set_xticklabels(["%.1f" % v for v in xticks[i]])
        ax.set_yticklabels(["%.1f" % v for v in yticks[i]])
    for sp in ax.spines.values():
        sp.set_color(SPINE)
        sp.set_linewidth(1.0)
    ax.tick_params(axis='both', direction='out', length=5, width=1, color='#888888',
                   labelsize=10.5, labelcolor=TXT, pad=3)
    ax.set_xlabel(xlabels[i], fontsize=10.5, color=TXT, labelpad=8)
    ax.set_ylabel(ylabels[i], fontsize=10.5, color=TXT, labelpad=6)
    ax.text(0.5, 0.962, titles[i], transform=ax.transAxes, ha='center', va='center',
            fontsize=11.5, fontweight='bold', color='black', zorder=6)

    # right-side value labels, nudged apart when lines are close
    y0, y1 = ylims[i]
    ppu = FH / (y1 - y0)  # pixels per data unit
    labs = [(upper, "{:.2f}".format(upper)), (mean, "{:.2f}".format(mean)),
            (lower, "{:.2f}".format(lower)), (0.0, "0")]
    labs.sort(key=lambda t: -t[0])
    pos = [v * ppu for v, _ in labs]
    for _ in range(10):
        for k in range(len(pos) - 1):
            gap = pos[k] - pos[k + 1]
            if gap < MIN_SEP:
                d = (MIN_SEP - gap) / 2.0
                pos[k] += d
                pos[k + 1] -= d
    trans = mtransforms.blended_transform_factory(ax.transAxes, ax.transData)
    for (v, s), p in zip(labs, pos):
        ax.text(1.012, p / ppu, s, transform=trans, ha='left', va='center',
                fontsize=10.5, color=TXT, clip_on=False)

    handles = [
        Line2D([], [], ls='none', marker='o', markersize=6, markerfacecolor='none',
               markeredgecolor=PT, markeredgewidth=1.4),
        Patch(facecolor=BAND, edgecolor='#3d4f70', linewidth=1.0),
        Line2D([], [], color=REG, lw=2.0),
    ]
    leg = ax.legend(handles, [legend_labels[i], "95% Confidence Limits", "Regression"],
                    loc='lower center', bbox_to_anchor=(legend_xc[i], 0.0), borderaxespad=0.35,
                    ncol=3, fontsize=9.8,
                    frameon=True, fancybox=False, edgecolor='#cccccc', handlelength=1.5,
                    handletextpad=0.45, columnspacing=1.0, borderpad=0.3, labelcolor=TXT)
    leg.get_frame().set_linewidth(1.0)
    leg.set_zorder(4.5)

# annotations on Body Fat Percent
ax3 = axes[2]
ax3.plot([38.1, 42.8], [-7.4, -1.5], color='#222222', lw=1.4, zorder=6)
ax3.text(37.6, -7.9, "1", fontsize=10.5, color=TXT, ha='center', va='center', zorder=6)
ax3.plot([43.1, 45.6], [-3.6, -3.55], color='#222222', lw=1.4, zorder=6)
ax3.text(46.2, -3.6, "2", fontsize=10.5, color=TXT, ha='center', va='center', zorder=6)

# annotations on Right Arm Volume
ax7 = axes[6]
ax7.plot([4.0, 4.87], [5.19, 5.19], color='#222222', lw=1.4, zorder=6)
ax7.text(3.89, 5.19, "1", fontsize=10.5, color=TXT, ha='center', va='center', zorder=6)
ax7.plot([5.33, 6.14], [5.9, 5.9], color='#222222', lw=1.4, zorder=6)
ax7.text(5.22, 5.9, "2", fontsize=10.5, color=TXT, ha='center', va='center', zorder=6)

fig.savefig("out.png", dpi=100, facecolor='white')
